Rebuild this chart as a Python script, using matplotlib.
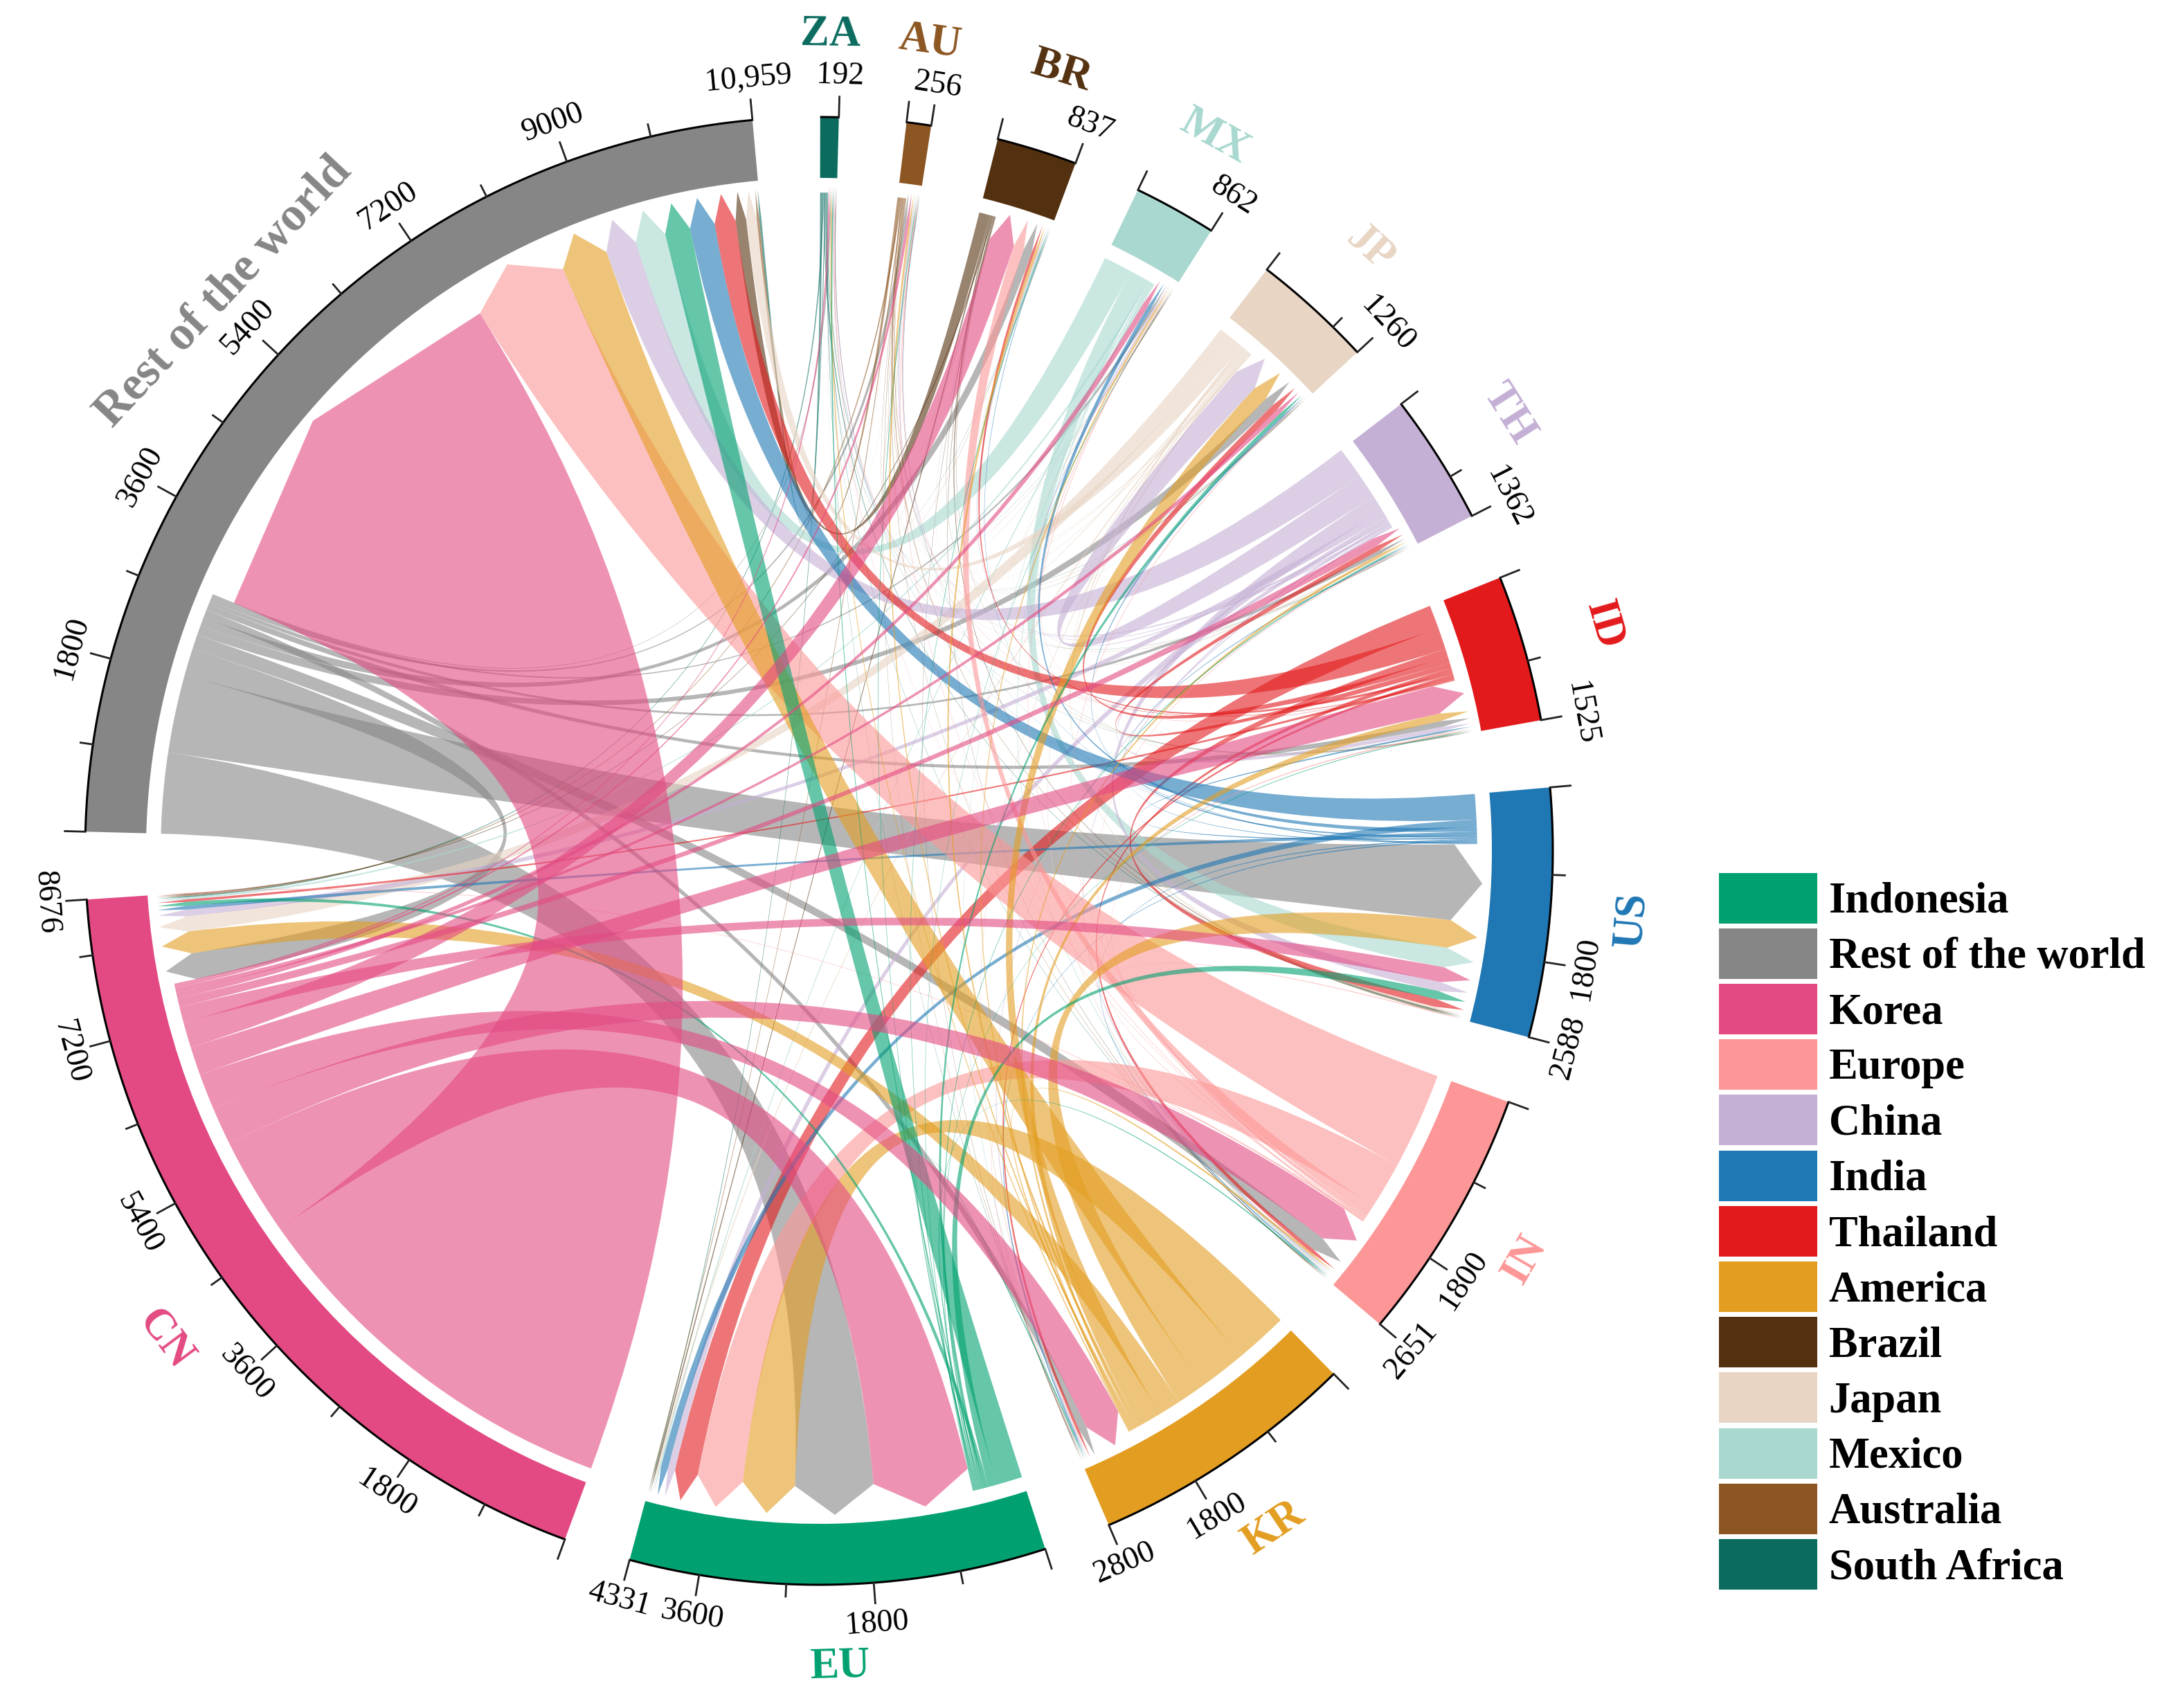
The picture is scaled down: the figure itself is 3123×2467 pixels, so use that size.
import numpy as np
import matplotlib
matplotlib.use("Agg")
import matplotlib.pyplot as plt
from matplotlib.patches import Wedge, Patch, PathPatch
from matplotlib.path import Path

plt.rcParams['font.family'] = ['Liberation Serif', 'DejaVu Serif']

# clockwise from the left gap
sectors = ['Rest of the world', 'ZA', 'AU', 'BR', 'MX', 'JP', 'TH', 'ID', 'US', 'IN', 'KR', 'EU', 'CN']
totals = [10959, 192, 256, 837, 862, 1260, 1362, 1525, 2588, 2651, 2800, 4331, 8676]
end_labels = ['10,959', '192', '256', '837', '862', '1260', '1362', '1525', '2588', '2651', '2800', '4331', '8676']
colors = ['#868686', '#0A6B5E', '#8C5622', '#53300F', '#A8D8D0', '#E8D5C4', '#C5B0D5',
          '#E31A1C', '#1F77B4', '#FD9797', '#E39E21', '#00A070', '#E34A83']

from_row = [0, 15, 35, 100, 30, 110, 45, 70, 900, 170, 90, 930, 310]
from_za = [25, 0, 1, 4, 3, 5, 3, 5, 10, 6, 5, 10, 15]
from_au = [30, 1, 0, 4, 3, 4, 3, 5, 10, 6, 5, 10, 15]
from_br = [125, 1, 3, 0, 2, 5, 3, 5, 12, 6, 5, 15, 12]
from_mx = [360, 2, 3, 5, 0, 5, 5, 5, 235, 15, 10, 20, 25]
from_jp = [125, 5, 10, 10, 15, 0, 15, 15, 25, 15, 15, 20, 180]
from_th = [365, 10, 15, 15, 20, 290, 0, 50, 110, 20, 15, 85, 80]
from_id = [250, 5, 5, 30, 5, 75, 60, 0, 90, 45, 30, 275, 30]
from_us = [295, 5, 5, 8, 50, 20, 12, 20, 0, 15, 15, 85, 45]
from_in = [1110, 6, 8, 125, 10, 10, 10, 15, 10, 0, 10, 540, 10]
from_kr = [550, 15, 20, 30, 20, 180, 30, 90, 330, 25, 0, 620, 260]
from_eu = [300, 15, 10, 10, 8, 40, 15, 10, 100, 15, 15, 0, 45]
from_cn = [4550, 20, 30, 295, 70, 55, 100, 330, 180, 430, 420, 1130, 0]
flows = np.array([from_row, from_za, from_au, from_br, from_mx, from_jp, from_th,
                  from_id, from_us, from_in, from_kr, from_eu, from_cn], dtype=float)

legend_names = ['Indonesia', 'Rest of the world', 'Korea', 'Europe', 'China', 'India', 'Thailand',
                'America', 'Brazil', 'Japan', 'Mexico', 'Australia', 'South Africa']
legend_colors = ['#00A070', '#868686', '#E34A83', '#FD9797', '#C5B0D5', '#1F77B4', '#E31A1C',
                 '#E39E21', '#53300F', '#E8D5C4', '#A8D8D0', '#8C5622', '#0A6B5E']

W, H = 3123, 2467
CX, CY, R = 1183, 1229, 1060
START = 178.5
GAP = 5.3
R_RING_IN, R_TIP, R_FLAT, R_SHOULDER = 0.917, 0.905, 0.897, 0.866

fig = plt.figure(figsize=(W / 100, H / 100), dpi=100)
ax = fig.add_axes([0, 0, 1, 1])
ax.set_xlim(-CX / R, (W - CX) / R)
ax.set_ylim(-(H - CY) / R, CY / R)
ax.axis('off')


def polar(theta, r):
    t = np.radians(theta)
    return np.column_stack([r * np.cos(t), r * np.sin(t)])


def upright(theta):
    rot = (theta - 90 + 180) % 360 - 180
    if rot > 90:
        rot -= 180
    elif rot < -90:
        rot += 180
    return rot


n = len(sectors)
deg_per_unit = (360 - n * GAP) / sum(totals)
starts = []
pos = START
for t in totals:
    starts.append(pos)
    pos -= t * deg_per_unit + GAP

# ring, axis and labels
for i, name in enumerate(sectors):
    a0 = starts[i]
    a1 = a0 - totals[i] * deg_per_unit
    ax.add_patch(Wedge((0, 0), 1.0, a1, a0, width=1.0 - R_RING_IN, facecolor=colors[i], edgecolor='none'))
    arc = polar(np.linspace(a0, a1, 100), 1.0)
    ax.plot(arc[:, 0], arc[:, 1], color='black', lw=2.2, solid_capstyle='butt')

    # ticks too close to the end one are left out
    tick_values = [v for v in range(0, totals[i], 900) if totals[i] - v > 200] + [totals[i]]
    for v in tick_values:
        th = a0 - v * deg_per_unit
        major = v % 1800 == 0 or v == totals[i]
        seg = polar(np.array([th, th]), np.array([1.0, 1.028 if major else 1.017]))
        ax.plot(seg[:, 0], seg[:, 1], color='#222222', lw=2.0)
        if v == 0 or not major:
            continue
        txt = end_labels[i] if v == totals[i] else str(v)
        p = polar(np.array([th]), 1.056)[0]
        ax.text(p[0], p[1], txt, fontsize=33, ha='center', va='center', rotation=upright(th), color='black')

    mid = (a0 + a1) / 2
    p = polar(np.array([mid]), 1.112)[0]
    ax.text(p[0], p[1], name, fontsize=50 if i == 0 else 45, fontweight='bold', ha='center', va='center',
            rotation=upright(mid), color=colors[i])

# place every chord end: outgoing first, then incoming, widest first
out_pos = {}
in_pos = {}
for i in range(n):
    fit = totals[i] / (flows[i].sum() + flows[:, i].sum())
    cur = starts[i]
    for j in sorted(range(n), key=lambda k: -flows[i, k]):
        if flows[i, j] > 0:
            w = flows[i, j] * fit * deg_per_unit
            out_pos[(i, j)] = (cur, cur - w)
            cur -= w
    for j in sorted(range(n), key=lambda k: -flows[k, i]):
        if flows[j, i] > 0:
            w = flows[j, i] * fit * deg_per_unit
            in_pos[(j, i)] = (cur, cur - w)
            cur -= w

for i in range(n):
    for j in range(n):
        if flows[i, j] <= 0:
            continue
        a0, a1 = out_pos[(i, j)]
        b0, b1 = in_pos[(i, j)]
        src = polar(np.linspace(a0, a1, 30), R_FLAT)
        verts = [tuple(v) for v in src]
        codes = [Path.MOVETO] + [Path.LINETO] * (len(verts) - 1)
        s0 = polar(np.array([b0]), R_SHOULDER)[0]
        s1 = polar(np.array([b1]), R_SHOULDER)[0]
        tip = polar(np.array([(b0 + b1) / 2]), R_TIP)[0]
        verts += [(0, 0), tuple(s0), tuple(tip), tuple(s1), (0, 0), tuple(src[0]), tuple(src[0])]
        codes += [Path.CURVE3, Path.CURVE3, Path.LINETO, Path.LINETO, Path.CURVE3, Path.CURVE3, Path.CLOSEPOLY]
        ax.add_patch(PathPatch(Path(verts, codes), facecolor=colors[i], edgecolor='none', alpha=0.6, lw=0))

handles = [Patch(facecolor=c, edgecolor='none', label=l) for c, l in zip(legend_colors, legend_names)]
leg = ax.legend(handles=handles, loc='upper left', bbox_to_anchor=(0.795, 0.489), frameon=False,
                prop={'family': 'Liberation Serif', 'weight': 'bold', 'size': 45},
                handlelength=2.27, handleheight=1.42, handletextpad=0.27, labelspacing=0.115,
                borderpad=0, borderaxespad=0)

fig.savefig('out.png', dpi=100, facecolor='white')
